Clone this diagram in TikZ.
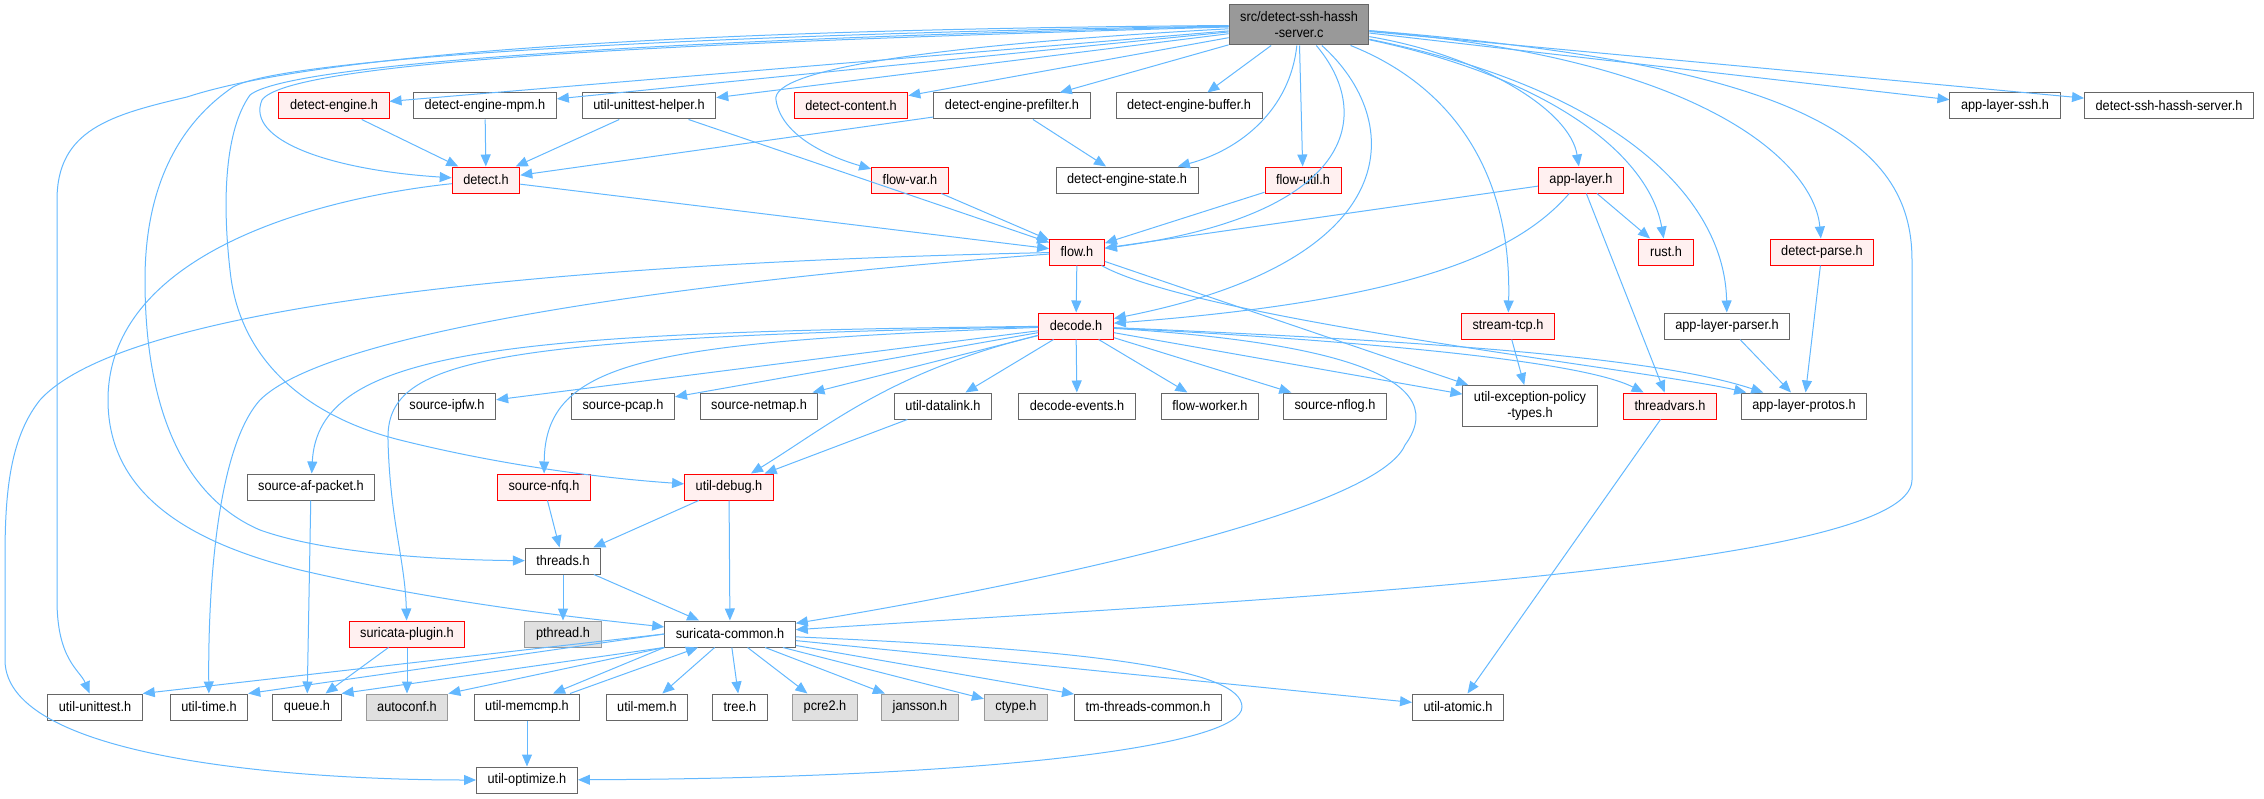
\documentclass[tikz,border=0pt]{standalone}
\usepackage{fontspec}
\setmainfont[FakeStretch=0.92]{Liberation Sans}
\usetikzlibrary{arrows.meta,calc}
\definecolor{edgeblue}{HTML}{63B8FF}
\definecolor{redfill}{HTML}{FFF0F0}
\definecolor{extfill}{HTML}{E0E0E0}
\definecolor{extdraw}{HTML}{999999}
\definecolor{normdraw}{HTML}{666666}
\definecolor{rootfill}{HTML}{999999}
\begin{document}
\begin{tikzpicture}[x=0.75pt, y=-0.75pt,
    file/.style={draw=normdraw, fill=white, line width=0.75pt, minimum height=19.5pt,
        inner xsep=8.3pt, inner ysep=2pt, align=center, font=\fontsize{10.4}{12}\selectfont},
    redfile/.style={file, draw=red, fill=redfill},
    extfile/.style={file, draw=extdraw, fill=extfill},
    rootfile/.style={file, fill=rootfill, minimum height=30pt},
    dep/.style={draw=edgeblue, line width=0.75pt, -{Triangle[length=9pt,width=7.5pt]}}]
    \useasboundingbox (0,0) rectangle (2264,799);

    % Draw the file nodes, row by row
    \node[rootfile] (root) at (1299,25) {src/detect-ssh-hassh\\-server.c};

    \node[redfile] (dengine) at (334,106) {detect-engine.h};
    \node[file] (dmpm) at (485,106) {detect-engine-mpm.h};
    \node[file] (uthelper) at (649,106) {util-unittest-helper.h};
    \node[redfile] (dcontent) at (851,106) {detect-content.h};
    \node[file] (dprefilter) at (1012,106) {detect-engine-prefilter.h};
    \node[file] (dbuffer) at (1189,106) {detect-engine-buffer.h};
    \node[file] (alssh) at (2005,106) {app-layer-ssh.h};
    \node[file] (dsshserver) at (2169,106) {detect-ssh-hassh-server.h};

    \node[redfile] (detect) at (486,180) {detect.h};
    \node[redfile] (flowvar) at (910,180) {flow-var.h};
    \node[file] (dstate) at (1127,180) {detect-engine-state.h};
    \node[redfile] (flowutil) at (1303,180) {flow-util.h};
    \node[redfile] (applayer) at (1581,180) {app-layer.h};

    \node[redfile] (flow) at (1077,252) {flow.h};
    \node[redfile] (rust) at (1666,252) {rust.h};
    \node[redfile] (dparse) at (1822,252) {detect-parse.h};

    \node[redfile] (decode) at (1076,326) {decode.h};
    \node[redfile] (streamtcp) at (1508,326) {stream-tcp.h};
    \node[file] (alparser) at (1727,326) {app-layer-parser.h};

    \node[file] (ipfw) at (447,406) {source-ipfw.h};
    \node[file] (pcap) at (623,406) {source-pcap.h};
    \node[file] (netmap) at (759,406) {source-netmap.h};
    \node[file] (udatalink) at (943,406) {util-datalink.h};
    \node[file] (devents) at (1077,406) {decode-events.h};
    \node[file] (fworker) at (1210,406) {flow-worker.h};
    \node[file] (nflog) at (1335,406) {source-nflog.h};
    \node[file, minimum height=30.75pt] (uexcept) at (1530,406) {util-exception-policy\\-types.h};
    \node[redfile] (threadvars) at (1670,406) {threadvars.h};
    \node[file] (alprotos) at (1804,406) {app-layer-protos.h};

    \node[file] (afpacket) at (311,487) {source-af-packet.h};
    \node[redfile] (nfq) at (544,487) {source-nfq.h};
    \node[redfile] (udebug) at (729,487) {util-debug.h};

    \node[file] (threads) at (563,561) {threads.h};

    \node[redfile] (splugin) at (407,634) {suricata-plugin.h};
    \node[extfile] (pthread) at (563,634) {pthread.h};
    \node[file] (scommon) at (730,634) {suricata-common.h};

    \node[file] (utest) at (95,707) {util-unittest.h};
    \node[file] (utime) at (209,707) {util-time.h};
    \node[file] (queue) at (307,707) {queue.h};
    \node[extfile] (autoconf) at (407,707) {autoconf.h};
    \node[file] (umemcmp) at (527,707) {util-memcmp.h};
    \node[file] (umem) at (647,707) {util-mem.h};
    \node[file] (tree) at (740,707) {tree.h};
    \node[extfile] (pcre) at (825,707) {pcre2.h};
    \node[extfile] (jansson) at (920,707) {jansson.h};
    \node[extfile] (ctype) at (1016,707) {ctype.h};
    \node[file] (tmthreads) at (1148,707) {tm-threads-common.h};
    \node[file] (uatomic) at (1458,707) {util-atomic.h};

    \node[file] (uoptimize) at (527,780) {util-optimize.h};

    % Straight include edges
    \foreach \a/\b in {root/dengine, root/dmpm, root/uthelper, root/dcontent, root/dprefilter,
        root/dbuffer, root/flowutil, root/alssh, root/dsshserver,
        dengine/detect, dmpm/detect, uthelper/detect, uthelper/flow, dprefilter/detect, dprefilter/dstate,
        detect/flow, flowvar/flow, flowutil/flow, applayer/flow, applayer/rust, applayer/threadvars,
        flow/decode, flow/uexcept, dparse/alprotos, alparser/alprotos, streamtcp/uexcept,
        decode/ipfw, decode/pcap, decode/netmap, decode/udatalink, decode/devents, decode/fworker,
        decode/nflog, decode/uexcept, udatalink/udebug, afpacket/queue, nfq/threads,
        udebug/threads, udebug/scommon, threads/pthread, threads/scommon, threadvars/uatomic,
        splugin/queue, splugin/autoconf, scommon/umem, scommon/tree, scommon/pcre, scommon/jansson,
        scommon/ctype, scommon/tmthreads, scommon/uatomic, umemcmp/uoptimize}
        \draw[dep] (\a) -- (\b);
    \foreach \a/\b in {scommon.west/utest.north east, scommon.west/utime.north east,
        scommon.south west/queue.north east, scommon.south west/autoconf.north east}
        \draw[dep] (\a) -- (\b);
    \draw[dep] (scommon.south west) -- ($(umemcmp.north)+(26,0)$);
    \draw[dep] ($(umemcmp.north)+(43,0)$) -- ($(scommon.south)+(-32,0)$);

    % Curved edges from the source file, left side
    \draw[dep] (root) .. controls (600,30) and (300,60) .. (187,97) .. controls (110,115) and (57,130) .. (57,200)
        -- (57,600) .. controls (57,660) and (80,670) .. (utest);
    \draw[dep] (root) .. controls (650,35) and (280,60) .. (233,87) .. controls (170,130) and (145,200) .. (145,280)
        .. controls (145,420) and (190,500) .. (260,530) .. controls (330,555) and (450,560) .. (threads);
    \draw[dep] (root) .. controls (700,38) and (290,62) .. (250,95) .. controls (225,130) and (222,200) .. (230,270)
        .. controls (240,370) and (320,420) .. (400,440) .. controls (500,465) and (600,478) .. (udebug);
    \draw[dep] (root) .. controls (700,42) and (290,60) .. (262,100) .. controls (245,140) and (330,170) .. (detect);
    \draw[dep] (root) .. controls (930,45) and (770,70) .. (776,100) .. controls (782,140) and (840,160) .. (flowvar);

    % Curved edges from the source file, right side
    \draw[dep] (root) .. controls (1290,110) and (1240,150) .. (dstate);
    \draw[dep] (root) .. controls (1375,115) and (1355,215) .. (flow);
    \draw[dep] (root) .. controls (1405,120) and (1410,260) .. (decode);
    \draw[dep] (root) .. controls (1480,55) and (1570,110) .. (applayer);
    \draw[dep] (root) .. controls (1560,80) and (1650,160) .. (rust);
    \draw[dep] (root) .. controls (1450,85) and (1512,170) .. (streamtcp);
    \draw[dep] (root) .. controls (1620,90) and (1725,200) .. (alparser);
    \draw[dep] (root) .. controls (1720,60) and (1815,170) .. (dparse);
    \draw[dep] (root) .. controls (1800,65) and (1912,140) .. (1912,260) -- (1912,480)
        .. controls (1912,570) and (1250,600) .. (scommon);

    % Other curved edges
    \draw[dep] (detect) .. controls (300,200) and (108,260) .. (108,400) .. controls (108,500) and (200,545) .. (300,570)
        .. controls (450,605) and (600,620) .. (scommon);
    \draw[dep] (applayer) .. controls (1520,250) and (1420,300) .. (decode);
    \draw[dep] (flow) .. controls (1200,320) and (1650,370) .. (alprotos);
    \draw[dep] (flow) .. controls (700,280) and (330,330) .. (260,400) .. controls (215,450) and (208,600) .. (utime);
    \draw[dep] (flow) .. controls (600,262) and (130,300) .. (40,400) .. controls (8,440) and (5,500) .. (5,560) -- (5,660)
        .. controls (5,760) and (300,780) .. (uoptimize);
    \draw[dep] (decode) .. controls (1400,340) and (1650,355) .. (alprotos);
    \draw[dep] (decode) .. controls (1350,340) and (1580,360) .. (threadvars);
    \draw[dep] (decode) .. controls (500,332) and (318,350) .. (afpacket);
    \draw[dep] (decode) .. controls (650,342) and (545,360) .. (nfq);
    \draw[dep] (decode) .. controls (480,338) and (386,360) .. (388,440) .. controls (390,520) and (405,560) .. (splugin);
    \draw[dep] (decode) .. controls (890,372) and (830,425) .. (udebug);
    \draw[dep] (decode) .. controls (1300,340) and (1460,370) .. (1405,445) .. controls (1375,515) and (1000,590) .. (scommon);
    \draw[dep] (scommon) .. controls (1100,650) and (1242,670) .. (1242,707) .. controls (1242,745) and (1000,778) .. (uoptimize);
\end{tikzpicture}
\end{document}
